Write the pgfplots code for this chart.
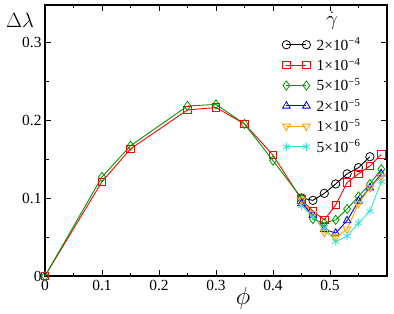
\documentclass[border=0pt]{standalone}
\usepackage{pgfplots}
\pgfplotsset{compat=1.18}
\usepackage{fontspec}
\setmainfont{Liberation Serif}
\definecolor{grgreen}{RGB}{0,150,0}
\definecolor{grorange}{RGB}{255,165,0}
\definecolor{grturq}{RGB}{64,224,208}
\begin{document}
\begin{tikzpicture}
\begin{axis}[
  scale only axis, width=342bp, height=271bp,
  xmin=0, xmax=0.6, ymin=0, ymax=0.3475,
  axis line style={line width=1.2pt},
  tick style={line width=0.8pt, black},
  tick align=inside,
  xtick={0,0.1,0.2,0.3,0.4,0.5},
  minor xtick={0.05,0.15,0.25,0.35,0.45,0.55},
  ytick={0,0.1,0.2,0.3},
  minor ytick={0.05,0.15,0.25},
  major tick length=6bp, minor tick length=3.5bp,
  xticklabel style={/pgf/number format/fixed,/pgf/number format/precision=1},
  yticklabel style={/pgf/number format/fixed,/pgf/number format/precision=1},
  /pgf/number format/assume math mode=true,
  tick label style={font=\fontsize{15.5}{18}\selectfont},
  xticklabel shift=1bp, yticklabel shift=0bp,
  legend cell align=left,
  legend style={draw=none, fill=none, inner sep=0pt,
    at={(axis description cs:0.693,0.887)}, anchor=north west,
    font=\fontsize{15.5}{18}\selectfont, row sep=2.6bp,
    nodes={inner sep=2bp},
    /tikz/every odd column/.style={column sep=4bp}},
  legend image code/.code={\draw[#1] plot coordinates {(0bp,0bp) (20bp,0bp)};},
  every axis plot/.append style={line width=0.9pt, mark size=4.2pt, mark options={solid, line width=0.8pt}},
  clip=false,
]
\addplot[black, mark=o] coordinates {
(0.45,0.100) (0.47,0.097) (0.49,0.106) (0.51,0.118) (0.53,0.131) (0.55,0.139) (0.57,0.153)};
\addlegendentry{2×10\textsuperscript{−4}}
\addplot[red, mark=square, mark size=3.7pt] coordinates {
(0,0) (0.1,0.121) (0.15,0.163) (0.25,0.213) (0.3,0.216) (0.35,0.195) (0.4,0.155)
(0.45,0.098) (0.47,0.083) (0.49,0.072) (0.51,0.091) (0.53,0.120) (0.55,0.131) (0.57,0.141) (0.59,0.156)};
\addlegendentry{1×10\textsuperscript{−4}}
\addplot[grgreen, mark=diamond, mark size=4.6pt] coordinates {
(0,0) (0.1,0.127) (0.15,0.167) (0.25,0.218) (0.3,0.220) (0.35,0.195) (0.4,0.148)
(0.45,0.100) (0.47,0.073) (0.49,0.068) (0.51,0.072) (0.53,0.086) (0.55,0.102) (0.57,0.118) (0.59,0.137)};
\addlegendentry{5×10\textsuperscript{−5}}
\addplot[blue, mark=triangle, mark size=4.4pt] coordinates {
(0.45,0.093) (0.47,0.078) (0.49,0.060) (0.51,0.055) (0.53,0.071) (0.55,0.096) (0.57,0.113) (0.59,0.131)};
\addlegendentry{2×10\textsuperscript{−5}}
\addplot[grorange, mark=triangle, mark size=4.4pt, mark options={rotate=180}] coordinates {
(0.45,0.097) (0.47,0.080) (0.49,0.056) (0.51,0.050) (0.53,0.060) (0.55,0.093) (0.57,0.113) (0.59,0.128)};
\addlegendentry{1×10\textsuperscript{−5}}
\addplot[grturq, mark=asterisk, mark size=4.2pt] coordinates {
(0.45,0.090) (0.47,0.076) (0.49,0.062) (0.51,0.044) (0.53,0.051) (0.55,0.068) (0.57,0.083) (0.59,0.121)};
\addlegendentry{5×10\textsuperscript{−6}}
\node at (axis description cs:-0.073,0.945) {\fontsize{21}{24}\selectfont$\Delta\lambda$};
\node at (axis description cs:0.579,-0.083) {\fontsize{23}{26}\selectfont$\phi$};
\node[inner sep=0pt] at (axis description cs:0.839,0.942) {\fontsize{21}{24}\selectfont$\dot{\gamma}$};
\end{axis}
\path ([xshift=-45bp,yshift=-37bp]current axis.south west) rectangle ([xshift=7bp,yshift=5bp]current axis.north east);
\end{tikzpicture}
\end{document}
